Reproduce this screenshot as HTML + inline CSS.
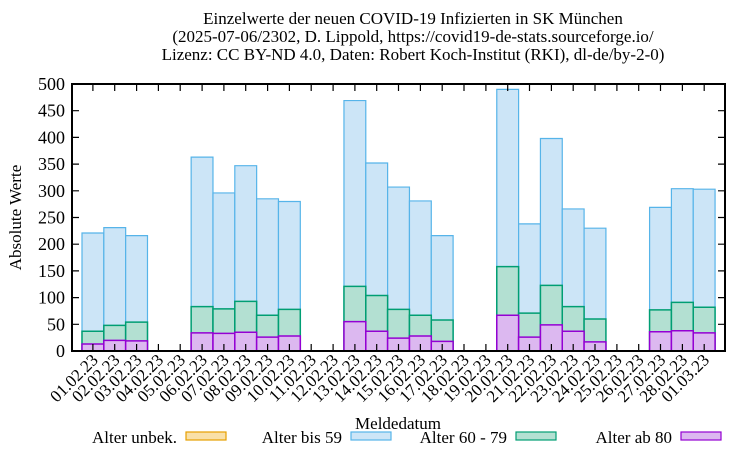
<!DOCTYPE html>
<html><head><meta charset="utf-8"><style>
body{margin:0;background:#fff}
svg{display:block;font-family:"Liberation Serif",serif}
</style></head><body>
<svg width="750" height="450" viewBox="0 0 750 450" xmlns="http://www.w3.org/2000/svg">
<g font-size="17" text-anchor="middle" fill="#000">
<text x="413" y="24">Einzelwerte der neuen COVID-19 Infizierten in SK München</text>
<text x="413" y="42">(2025-07-06/2302, D. Lippold, https://covid19-de-stats.sourceforge.io/</text>
<text x="413" y="60">Lizenz: CC BY-ND 4.0, Daten: Robert Koch-Institut (RKI), dl-de/by-2-0)</text>
</g>
<g transform="matrix(21.83 0 0 -0.534 82 351)">
<g fill="#cce5f7" stroke="#56b4e9" stroke-width="1.2">
<rect x="0" y="0" width="1" height="221" vector-effect="non-scaling-stroke"/>
<rect x="1" y="0" width="1" height="231" vector-effect="non-scaling-stroke"/>
<rect x="2" y="0" width="1" height="216" vector-effect="non-scaling-stroke"/>
<rect x="5" y="0" width="1" height="363" vector-effect="non-scaling-stroke"/>
<rect x="6" y="0" width="1" height="296" vector-effect="non-scaling-stroke"/>
<rect x="7" y="0" width="1" height="347" vector-effect="non-scaling-stroke"/>
<rect x="8" y="0" width="1" height="285" vector-effect="non-scaling-stroke"/>
<rect x="9" y="0" width="1" height="280" vector-effect="non-scaling-stroke"/>
<rect x="12" y="0" width="1" height="469" vector-effect="non-scaling-stroke"/>
<rect x="13" y="0" width="1" height="352" vector-effect="non-scaling-stroke"/>
<rect x="14" y="0" width="1" height="307" vector-effect="non-scaling-stroke"/>
<rect x="15" y="0" width="1" height="281" vector-effect="non-scaling-stroke"/>
<rect x="16" y="0" width="1" height="216" vector-effect="non-scaling-stroke"/>
<rect x="19" y="0" width="1" height="490" vector-effect="non-scaling-stroke"/>
<rect x="20" y="0" width="1" height="238" vector-effect="non-scaling-stroke"/>
<rect x="21" y="0" width="1" height="398" vector-effect="non-scaling-stroke"/>
<rect x="22" y="0" width="1" height="266" vector-effect="non-scaling-stroke"/>
<rect x="23" y="0" width="1" height="230" vector-effect="non-scaling-stroke"/>
<rect x="26" y="0" width="1" height="269" vector-effect="non-scaling-stroke"/>
<rect x="27" y="0" width="1" height="304" vector-effect="non-scaling-stroke"/>
<rect x="28" y="0" width="1" height="303" vector-effect="non-scaling-stroke"/>
</g>
<g fill="#b3e0d2" stroke="#009e73" stroke-width="1.5">
<rect x="0" y="0" width="1" height="37" vector-effect="non-scaling-stroke"/>
<rect x="1" y="0" width="1" height="48" vector-effect="non-scaling-stroke"/>
<rect x="2" y="0" width="1" height="54" vector-effect="non-scaling-stroke"/>
<rect x="5" y="0" width="1" height="83" vector-effect="non-scaling-stroke"/>
<rect x="6" y="0" width="1" height="79" vector-effect="non-scaling-stroke"/>
<rect x="7" y="0" width="1" height="93" vector-effect="non-scaling-stroke"/>
<rect x="8" y="0" width="1" height="67" vector-effect="non-scaling-stroke"/>
<rect x="9" y="0" width="1" height="78" vector-effect="non-scaling-stroke"/>
<rect x="12" y="0" width="1" height="121" vector-effect="non-scaling-stroke"/>
<rect x="13" y="0" width="1" height="104" vector-effect="non-scaling-stroke"/>
<rect x="14" y="0" width="1" height="78" vector-effect="non-scaling-stroke"/>
<rect x="15" y="0" width="1" height="67" vector-effect="non-scaling-stroke"/>
<rect x="16" y="0" width="1" height="58" vector-effect="non-scaling-stroke"/>
<rect x="19" y="0" width="1" height="158" vector-effect="non-scaling-stroke"/>
<rect x="20" y="0" width="1" height="71" vector-effect="non-scaling-stroke"/>
<rect x="21" y="0" width="1" height="123" vector-effect="non-scaling-stroke"/>
<rect x="22" y="0" width="1" height="83" vector-effect="non-scaling-stroke"/>
<rect x="23" y="0" width="1" height="60" vector-effect="non-scaling-stroke"/>
<rect x="26" y="0" width="1" height="77" vector-effect="non-scaling-stroke"/>
<rect x="27" y="0" width="1" height="91" vector-effect="non-scaling-stroke"/>
<rect x="28" y="0" width="1" height="82" vector-effect="non-scaling-stroke"/>
</g>
<g fill="#dcb8f0" stroke="#9400d3" stroke-width="1.5">
<rect x="0" y="0" width="1" height="13" vector-effect="non-scaling-stroke"/>
<rect x="1" y="0" width="1" height="20" vector-effect="non-scaling-stroke"/>
<rect x="2" y="0" width="1" height="19" vector-effect="non-scaling-stroke"/>
<rect x="5" y="0" width="1" height="34" vector-effect="non-scaling-stroke"/>
<rect x="6" y="0" width="1" height="33" vector-effect="non-scaling-stroke"/>
<rect x="7" y="0" width="1" height="35" vector-effect="non-scaling-stroke"/>
<rect x="8" y="0" width="1" height="26" vector-effect="non-scaling-stroke"/>
<rect x="9" y="0" width="1" height="28" vector-effect="non-scaling-stroke"/>
<rect x="12" y="0" width="1" height="55" vector-effect="non-scaling-stroke"/>
<rect x="13" y="0" width="1" height="37" vector-effect="non-scaling-stroke"/>
<rect x="14" y="0" width="1" height="24" vector-effect="non-scaling-stroke"/>
<rect x="15" y="0" width="1" height="28" vector-effect="non-scaling-stroke"/>
<rect x="16" y="0" width="1" height="18" vector-effect="non-scaling-stroke"/>
<rect x="19" y="0" width="1" height="67" vector-effect="non-scaling-stroke"/>
<rect x="20" y="0" width="1" height="26" vector-effect="non-scaling-stroke"/>
<rect x="21" y="0" width="1" height="49" vector-effect="non-scaling-stroke"/>
<rect x="22" y="0" width="1" height="37" vector-effect="non-scaling-stroke"/>
<rect x="23" y="0" width="1" height="17" vector-effect="non-scaling-stroke"/>
<rect x="26" y="0" width="1" height="36" vector-effect="non-scaling-stroke"/>
<rect x="27" y="0" width="1" height="38" vector-effect="non-scaling-stroke"/>
<rect x="28" y="0" width="1" height="34" vector-effect="non-scaling-stroke"/>
</g>
</g>
<rect x="72" y="84" width="653" height="267" fill="none" stroke="#000" stroke-width="2"/>
<path stroke="#000" stroke-width="1.2" d="M72 324.3h7M72 297.6h7M72 270.9h7M72 244.2h7M72 217.5h7M72 190.8h7M72 164.1h7M72 137.4h7M72 110.7h7
M725 324.3h-7M725 297.6h-7M725 270.9h-7M725 244.2h-7M725 217.5h-7M725 190.8h-7M725 164.1h-7M725 137.4h-7M725 110.7h-7"/>
<path stroke="#000" stroke-width="1.2" d="M92.9 351v-7M114.7 351v-7M136.6 351v-7M158.4 351v-7M180.2 351v-7M202.1 351v-7M223.9 351v-7M245.7 351v-7M267.6 351v-7M289.4 351v-7M311.2 351v-7M333.1 351v-7M354.9 351v-7M376.7 351v-7M398.5 351v-7M420.4 351v-7M442.2 351v-7M464 351v-7M485.9 351v-7M507.7 351v-7M529.5 351v-7M551.4 351v-7M573.2 351v-7M595 351v-7M616.9 351v-7M638.7 351v-7M660.5 351v-7M682.4 351v-7M704.2 351v-7
M92.9 84v7M114.7 84v7M136.6 84v7M158.4 84v7M180.2 84v7M202.1 84v7M223.9 84v7M245.7 84v7M267.6 84v7M289.4 84v7M311.2 84v7M333.1 84v7M354.9 84v7M376.7 84v7M398.5 84v7M420.4 84v7M442.2 84v7M464 84v7M485.9 84v7M507.7 84v7M529.5 84v7M551.4 84v7M573.2 84v7M595 84v7M616.9 84v7M638.7 84v7M660.5 84v7M682.4 84v7M704.2 84v7"/>
<g font-size="18" text-anchor="end">
<text x="65" y="357">0</text>
<text x="65" y="330.3">50</text>
<text x="65" y="303.6">100</text>
<text x="65" y="276.9">150</text>
<text x="65" y="250.2">200</text>
<text x="65" y="223.5">250</text>
<text x="65" y="196.8">300</text>
<text x="65" y="170.1">350</text>
<text x="65" y="143.4">400</text>
<text x="65" y="116.7">450</text>
<text x="65" y="90">500</text>
</g>
<text transform="translate(21,217.5) rotate(-90)" font-size="17" text-anchor="middle">Absolute Werte</text>
<g font-size="17" text-anchor="end">
<text transform="translate(99,361) rotate(-45)">01.02.23</text>
<text transform="translate(120.8,361) rotate(-45)">02.02.23</text>
<text transform="translate(142.6,361) rotate(-45)">03.02.23</text>
<text transform="translate(164.4,361) rotate(-45)">04.02.23</text>
<text transform="translate(186.2,361) rotate(-45)">05.02.23</text>
<text transform="translate(208.1,361) rotate(-45)">06.02.23</text>
<text transform="translate(229.9,361) rotate(-45)">07.02.23</text>
<text transform="translate(251.7,361) rotate(-45)">08.02.23</text>
<text transform="translate(273.6,361) rotate(-45)">09.02.23</text>
<text transform="translate(295.4,361) rotate(-45)">10.02.23</text>
<text transform="translate(317.2,361) rotate(-45)">11.02.23</text>
<text transform="translate(339.1,361) rotate(-45)">12.02.23</text>
<text transform="translate(360.9,361) rotate(-45)">13.02.23</text>
<text transform="translate(382.7,361) rotate(-45)">14.02.23</text>
<text transform="translate(404.5,361) rotate(-45)">15.02.23</text>
<text transform="translate(426.4,361) rotate(-45)">16.02.23</text>
<text transform="translate(448.2,361) rotate(-45)">17.02.23</text>
<text transform="translate(470,361) rotate(-45)">18.02.23</text>
<text transform="translate(491.9,361) rotate(-45)">19.02.23</text>
<text transform="translate(513.7,361) rotate(-45)">20.02.23</text>
<text transform="translate(535.5,361) rotate(-45)">21.02.23</text>
<text transform="translate(557.4,361) rotate(-45)">22.02.23</text>
<text transform="translate(579.2,361) rotate(-45)">23.02.23</text>
<text transform="translate(601,361) rotate(-45)">24.02.23</text>
<text transform="translate(622.9,361) rotate(-45)">25.02.23</text>
<text transform="translate(644.7,361) rotate(-45)">26.02.23</text>
<text transform="translate(666.5,361) rotate(-45)">27.02.23</text>
<text transform="translate(688.4,361) rotate(-45)">28.02.23</text>
<text transform="translate(710.2,361) rotate(-45)">01.03.23</text>
</g>
<text x="398" y="429" font-size="17" text-anchor="middle">Meldedatum</text>
<g font-size="17" text-anchor="end">
<text x="177" y="443">Alter unbek.</text>
<text x="342" y="443">Alter bis 59</text>
<text x="507" y="443">Alter 60 - 79</text>
<text x="672" y="443">Alter ab 80</text>
</g>
<rect x="186" y="432" width="40" height="8" fill="#f9e0a8" stroke="#e69f00" stroke-width="1.2"/>
<rect x="351" y="432" width="40" height="8" fill="#cce5f7" stroke="#56b4e9" stroke-width="1.2"/>
<rect x="516" y="432" width="40" height="8" fill="#b3e0d2" stroke="#009e73" stroke-width="1.2"/>
<rect x="681" y="432" width="40" height="8" fill="#dcb8f0" stroke="#9400d3" stroke-width="1.2"/>
</svg>
</body></html>
